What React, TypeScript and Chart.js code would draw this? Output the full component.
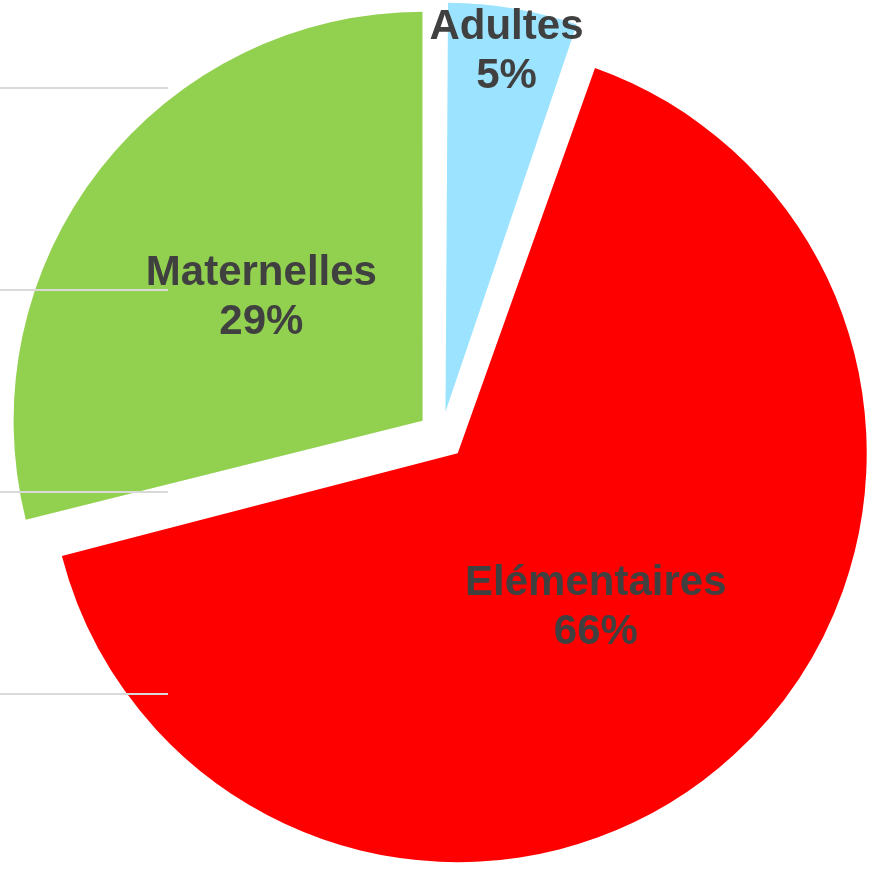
import React, { useEffect, useRef } from 'react';
import { Chart, registerables } from 'chart.js';

Chart.register(...registerables);

// ---- data ----
const categories: string[] = ['Adultes', 'Elémentaires', 'Maternelles'];
const shares: number[] = [5.3, 65.8, 28.9];
const sliceColors: string[] = ['#9BE3FE', '#FF0000', '#92D050'];
// background guide lines (hidden axis steps)
const guideSteps: number[] = [0, 1, 2, 3];

// ---- style ----
const EXPLODE = 96; // Chart.js translates by offset / 4
const RADIUS = 409;
const LABEL_DIST = [0.9, 0.5, 0.5];
const LABEL_FONT = 'bold 42px "Liberation Sans", Arial, sans-serif';
const LABEL_COLOR = '#404040';

const sliceLabelPlugin = {
  id: 'sliceLabels',
  beforeDatasetsDraw(chart: any) {
    const meta = chart.getDatasetMeta(0);
    const base = meta.controller.outerRadius;
    meta.data.forEach((arc: any) => {
      const off = (arc.options.offset || 0) / 4;
      const fix = 1 - Math.sin(Math.min(Math.PI, arc.circumference || 0));
      arc.outerRadius = base - off * fix;
    });
  },
  afterDatasetsDraw(chart: any) {
    const meta = chart.getDatasetMeta(0);
    const base = meta.controller.outerRadius;
    const values: number[] = chart.data.datasets[0].data;
    const total = values.reduce((a, b) => a + b, 0);
    const ctx = chart.ctx;
    ctx.save();
    ctx.font = LABEL_FONT;
    ctx.fillStyle = LABEL_COLOR;
    ctx.textAlign = 'center';
    ctx.textBaseline = 'alphabetic';
    meta.data.forEach((arc: any, i: number) => {
      const mid = (arc.startAngle + arc.endAngle) / 2;
      const off = (arc.options.offset || 0) / 4;
      const d = off + base * LABEL_DIST[i];
      const x = arc.x + Math.cos(mid) * d;
      const y = arc.y + Math.sin(mid) * d;
      const pct = Math.round((values[i] / total) * 100) + '%';
      ctx.fillText(String(chart.data.labels[i]), x, y - 9.5);
      ctx.fillText(pct, x, y + 39.5);
    });
    ctx.restore();
  },
};

export default function App() {
  const pieRef = useRef<HTMLCanvasElement>(null);
  const gridRef = useRef<HTMLCanvasElement>(null);

  useEffect(() => {
    const pie = new Chart(pieRef.current as HTMLCanvasElement, {
      type: 'pie',
      data: {
        labels: categories,
        datasets: [
          {
            data: shares,
            backgroundColor: sliceColors,
            borderWidth: 0,
            offset: EXPLODE,
            clip: false,
          } as any,
        ],
      },
      options: {
        responsive: false,
        animation: false,
        radius: RADIUS,
        layout: { padding: { left: 0, right: 1, top: 0, bottom: 0 } },
        plugins: {
          legend: { display: false },
          tooltip: { enabled: false },
        },
      } as any,
      plugins: [sliceLabelPlugin],
    });

    const grid = new Chart(gridRef.current as HTMLCanvasElement, {
      type: 'line',
      data: { labels: [], datasets: [] },
      options: {
        responsive: false,
        animation: false,
        layout: { padding: { top: 88, bottom: 177, left: 0, right: 0 } },
        plugins: {
          legend: { display: false },
          tooltip: { enabled: false },
        },
        scales: {
          x: { display: false },
          y: {
            min: guideSteps[0],
            max: guideSteps[guideSteps.length - 1],
            ticks: { display: false, stepSize: 1 },
            border: { display: false },
            grid: { color: '#d9d9d9', lineWidth: 2, drawTicks: false },
          },
        },
      } as any,
    });

    return () => {
      pie.destroy();
      grid.destroy();
    };
  }, []);

  return (
    <div style={{ position: 'absolute', left: 0, top: 0, width: 884, height: 871, overflow: 'hidden' }}>
      <canvas
        ref={pieRef}
        width={884}
        height={871}
        style={{ position: 'absolute', left: 0, top: 0 }}
      />
      <canvas
        ref={gridRef}
        width={168}
        height={871}
        style={{ position: 'absolute', left: 0, top: 0, pointerEvents: 'none' }}
      />
    </div>
  );
}
